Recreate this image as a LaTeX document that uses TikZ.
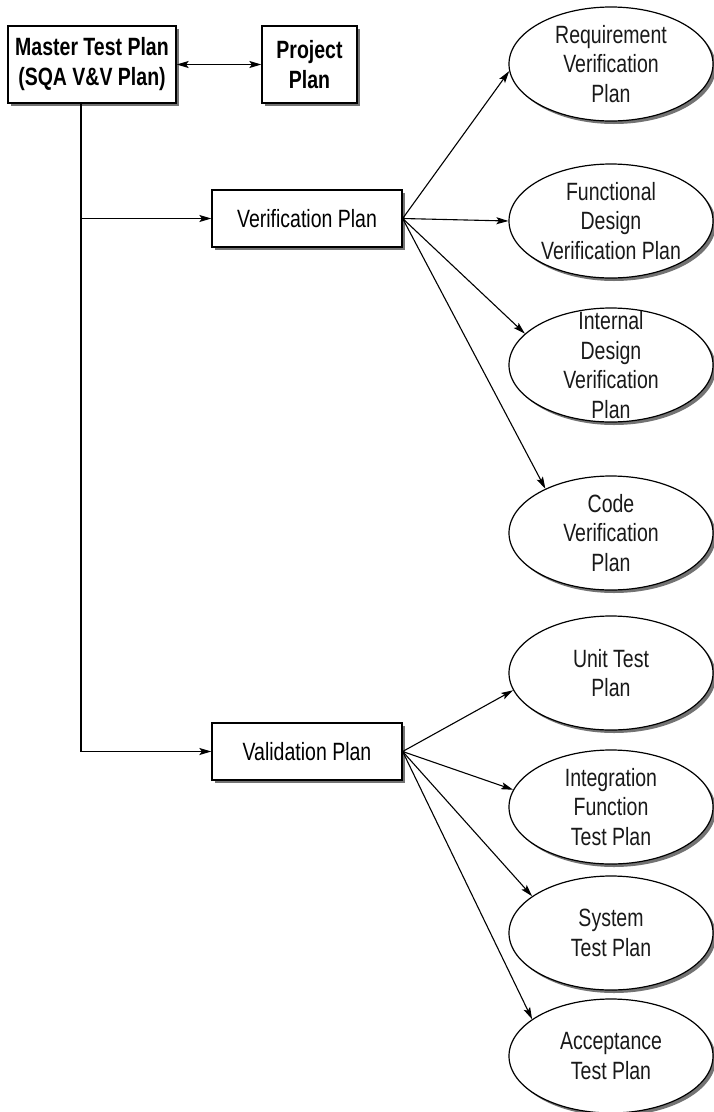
\documentclass[tikz,border=0pt]{standalone}
\usepackage{fontspec}
\setmainfont{Liberation Sans}[FakeStretch=0.78]
\usetikzlibrary{shapes.geometric,shadows,arrows.meta}
\begin{document}
\begin{tikzpicture}[x=1pt,y=-1pt,
  font=\fontsize{25}{29.5}\selectfont,
  shad/.style={drop shadow={shadow xshift=3pt,shadow yshift=-3pt,fill=black!55,opacity=1}},
  boxnode/.style={draw,line width=1.3pt,fill=white,shad,inner sep=0pt,align=center},
  ellnode/.style={draw,ellipse,line width=1.2pt,fill=white,shad,inner sep=0pt,minimum width=204pt,minimum height=114pt},
  txt/.style={align=center,inner sep=0pt,text=black!90},
  conn/.style={line width=1.1pt},
  tip/.tip={Stealth[length=12pt,width=7pt,inset=2.5pt]},
  arr/.style={conn,-tip}
]
\useasboundingbox (0,0) rectangle (713,1112);

\node[boxnode,minimum width=168pt,minimum height=77pt,font=\fontsize{25}{30}\selectfont\bfseries] (master) at (92,64.5) {Master Test Plan\\(SQA V\&V Plan)};
\node[boxnode,minimum width=95pt,minimum height=77pt,font=\fontsize{25}{30}\selectfont\bfseries] (project) at (309.5,64.5) {Project\\Plan};
\node[boxnode,minimum width=190pt,minimum height=57pt] (ver) at (307,218.5) {Verification Plan};
\node[boxnode,minimum width=190pt,minimum height=57pt] (val) at (307,751.5) {Validation Plan};

\node[ellnode] (req) at (611,64) {};
\node[txt] at (req) {Requirement\\Verification\\Plan};
\node[ellnode] (fun) at (611,221) {};
\node[txt] at (fun) {Functional\\Design\\Verification Plan};
\node[ellnode] (int) at (611,365) {};
\node[txt] at (int) {Internal\\Design\\Verification\\Plan};
\node[ellnode] (code) at (611,533) {};
\node[txt] at (code) {Code\\Verification\\Plan};
\node[ellnode] (unit) at (611,673) {};
\node[txt] at (unit) {Unit Test\\Plan};
\node[ellnode] (integ) at (611,807) {};
\node[txt] at (integ) {Integration\\Function\\Test Plan};
\node[ellnode] (sys) at (611,933) {};
\node[txt] at (sys) {System\\Test Plan};
\node[ellnode] (acc) at (611,1056) {};
\node[txt] at (acc) {Acceptance\\Test Plan};

\draw[conn,tip-tip] (master.east) -- (project.west);

\coordinate (trunk) at ([xshift=-11pt]master.south);
\coordinate (corner) at (trunk |- val.west);
\coordinate (branch) at (trunk |- ver.west);
\draw[conn] (trunk) -- (corner);
\draw[arr] (corner) -- (val.west);
\draw[arr] (branch) -- (ver.west);

\draw[arr] (ver.east) -- (req.184);
\draw[arr] (ver.east) -- (fun.west);
\draw[arr] (ver.east) -- (int.160);
\draw[arr] (ver.east) -- (code.146);

\draw[arr] (val.east) -- (unit.190);
\draw[arr] (val.east) -- (integ.170);
\draw[arr] (val.east) -- (sys.155);
\draw[arr] (val.east) -- (acc.155);
\end{tikzpicture}
\end{document}
